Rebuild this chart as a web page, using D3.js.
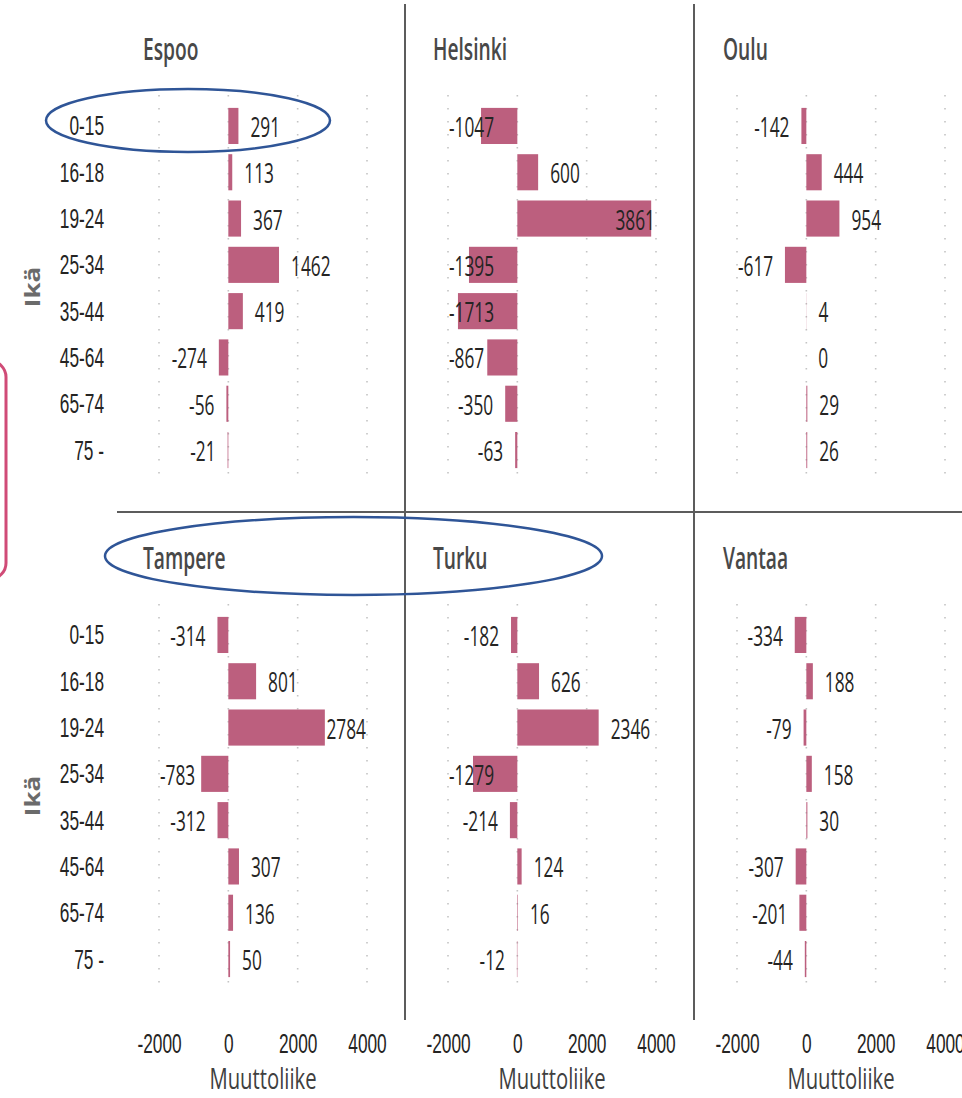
<!DOCTYPE html>
<html>
<head>
<meta charset="utf-8">
<script src="https://cdn.jsdelivr.net/npm/d3@7"></script>
<style>
  html, body { margin: 0; padding: 0; background: #fff; }
  svg { display: block; font-family: "Open Sans", "Noto Sans", sans-serif; }
</style>
</head>
<body>
<svg id="chart" width="962" height="1098"></svg>
<script>
// Net migration (muuttoliike) by age group for six Finnish cities
const ageGroups = ["0-15", "16-18", "19-24", "25-34", "35-44", "45-64", "65-74", "75 -"];
const cities = ["Espoo", "Helsinki", "Oulu", "Tampere", "Turku", "Vantaa"];

const espoo    = [291, 113, 367, 1462, 419, -274, -56, -21];
const helsinki = [-1047, 600, 3861, -1395, -1713, -867, -350, -63];
const oulu     = [-142, 444, 954, -617, 4, 0, 29, 26];
const tampere  = [-314, 801, 2784, -783, -312, 307, 136, 50];
const turku    = [-182, 626, 2346, -1279, -214, 124, 16, -12];
const vantaa   = [-334, 188, -79, 158, 30, -307, -201, -44];

const xTicks = [-2000, 0, 2000, 4000];
const xAxisTitle = "Muuttoliike";
const yAxisTitle = "Ikä";

const cityValues = [espoo, helsinki, oulu, tampere, turku, vantaa];

// Layout
const SX = 0.64;               // horizontal squeeze of the narrow typeface
const colStep = 289, rowStep = 509;
const BAR = "#bc5f7e";
const TEXT = "#252423";
const FS = 27;

const svg = d3.select("#chart");

function squeezed(g, txt, x, y, anchor, size, fill, weight, sx) {
  const s = sx || SX;
  return g.append("text")
    .attr("transform", `translate(${x},${y}) scale(${s},1)`)
    .attr("text-anchor", anchor)
    .attr("font-size", size)
    .attr("font-weight", weight || 400)
    .attr("fill", fill)
    .text(txt);
}

cities.forEach((city, i) => {
  const col = i % 3, row = Math.floor(i / 3);
  const values = cityValues[i];
  const g = svg.append("g");

  const x = d3.scaleLinear()
    .domain(d3.extent(xTicks))
    .range([159 + colStep * col, 367 + colStep * col]);
  const y = d3.scaleBand()
    .domain(ageGroups)
    .range([94 + rowStep * row, 482 + rowStep * row])
    .paddingInner(0.22)
    .paddingOuter(0.3);

  // dotted vertical gridlines
  const [r0, r1] = y.range();
  g.append("g").selectAll("line").data(xTicks).join("line")
    .attr("x1", d => x(d)).attr("x2", d => x(d))
    .attr("y1", r0 + 1).attr("y2", r1 + 1)
    .attr("stroke", "#c4c4c4")
    .attr("stroke-width", 1.6)
    .attr("stroke-dasharray", "1.6,11.4");

  // panel title
  squeezed(g, city, 143 + colStep * col + col, 60 + rowStep * row, "start", 30, "#484848", 600, 0.64);

  // bars
  const data = ageGroups.map((a, k) => ({ age: a, value: values[k] }));
  g.append("g").selectAll("rect").data(data).join("rect")
    .attr("x", d => x(Math.min(0, d.value)))
    .attr("width", d => Math.abs(x(d.value) - x(0)))
    .attr("y", d => y(d.age))
    .attr("height", y.bandwidth())
    .attr("fill", BAR);

  // value labels, kept inside the plot area
  const left = x.range()[0] + 1, right = x.range()[1] - 1, gap = 12;
  data.forEach(d => {
    const yy = y(d.age) + y.bandwidth() / 2 + 11;
    const t = squeezed(g, String(d.value), 0, yy, "start", FS, TEXT);
    const w = t.node().getComputedTextLength() * SX;
    let xs;
    if (d.value >= 0) {
      xs = Math.min(x(d.value) + gap, right - w);
    } else {
      xs = Math.max(x(d.value) - gap - w, left);
    }
    t.attr("transform", `translate(${xs},${yy}) scale(${SX},1)`);
  });

  // category axis on the left column
  if (col === 0) {
    const ya = g.append("g")
      .attr("transform", "translate(104,0)")
      .call(d3.axisLeft(y).tickSize(0).tickPadding(0));
    ya.select(".domain").remove();
    ya.selectAll("text")
      .attr("x", 0).attr("dy", 0).attr("y", 9.5)
      .attr("transform", `scale(${SX},1)`)
      .attr("font-size", FS)
      .attr("font-family", null)
      .attr("fill", TEXT);

    g.append("text")
      .attr("transform", `translate(40,${287 + rowStep * row}) rotate(-90) scale(1,0.85)`)
      .attr("text-anchor", "middle")
      .attr("font-size", 26)
      .attr("font-weight", 700)
      .attr("fill", "#6b6b6b")
      .text(yAxisTitle);
  }

  // value axis on the bottom row
  if (row === 1) {
    const xa = g.append("g")
      .attr("transform", "translate(0,1053)")
      .call(d3.axisBottom(x).tickValues(xTicks).tickSize(0).tickPadding(0).tickFormat(d => String(d)));
    xa.select(".domain").remove();
    xa.selectAll("text")
      .attr("y", 0).attr("dy", 0)
      .attr("transform", `scale(${SX},1)`)
      .attr("font-size", FS)
      .attr("font-family", null)
      .attr("fill", TEXT);

    squeezed(g, xAxisTitle, (x.range()[0] + x.range()[1]) / 2, 1089, "middle", 29, "#404040", 400, 0.7);
  }
});

// panel separators
const sep = svg.append("g").attr("stroke", "#5c5c5c").attr("stroke-width", 2);
[405, 694].forEach(xv => sep.append("line").attr("x1", xv).attr("x2", xv).attr("y1", 4).attr("y2", 1020));
sep.append("line").attr("x1", 117).attr("x2", 962).attr("y1", 512).attr("y2", 512);

// highlight marks
const marks = svg.append("g").attr("fill", "none");
marks.append("ellipse").attr("cx", 188).attr("cy", 120.5).attr("rx", 142).attr("ry", 31.5)
  .attr("stroke", "#2f5597").attr("stroke-width", 2.5);
marks.append("ellipse").attr("cx", 353.5).attr("cy", 556).attr("rx", 248.5).attr("ry", 39)
  .attr("stroke", "#2f5597").attr("stroke-width", 2.5);
marks.append("rect").attr("x", -40).attr("y", 361).attr("width", 46).attr("height", 218).attr("rx", 16)
  .attr("stroke", "#d04b77").attr("stroke-width", 3);
</script>
</body>
</html>
